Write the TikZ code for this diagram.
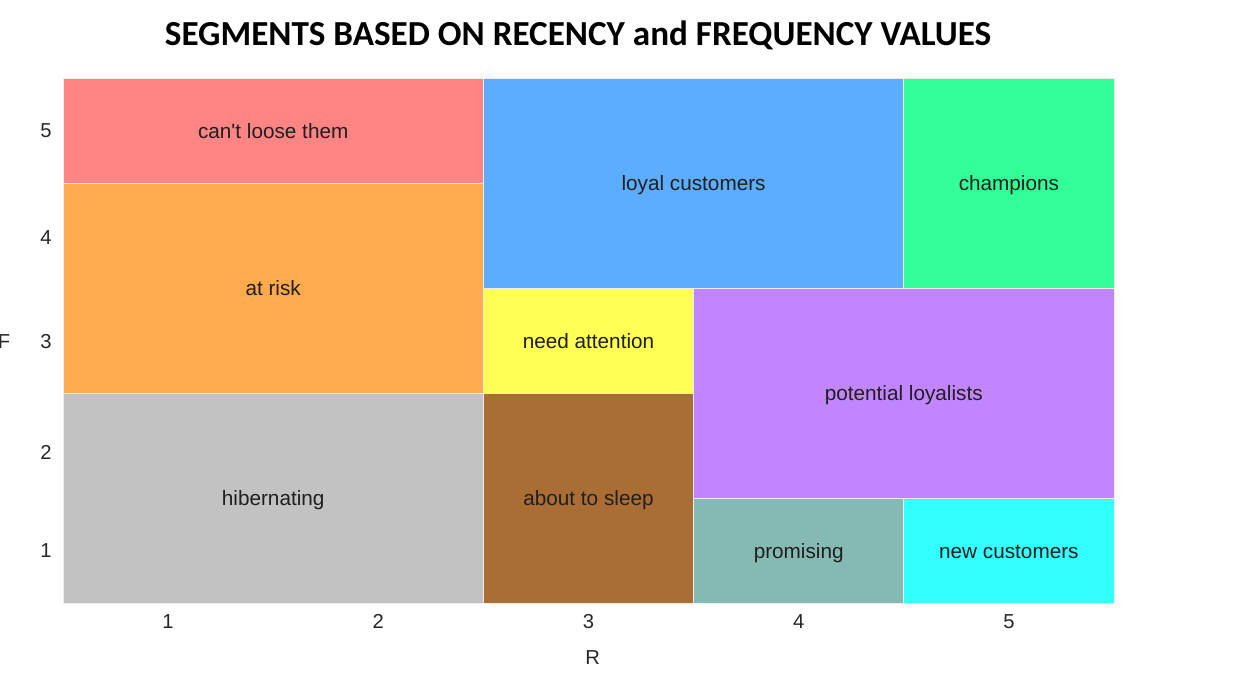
\documentclass[tikz,border=0pt]{standalone}
\usepackage{fontspec}
\setmainfont{Liberation Sans}
\newfontfamily\cellfont{Liberation Sans}
\newfontfamily\titlefont{Carlito}
\usepackage{tikz}
\usetikzlibrary{positioning}
\tikzset{cell/.style 2 args = {draw = white!85!gray, line width = 0.5pt, inner sep = 0,
    minimum width = #1*4.204cm, minimum height = #2*2.1cm, text = black!88,
    text height = 9pt, text depth = 0pt, font = \cellfont\fontsize{11.8}{14}\selectfont}}
\tikzset{tick/.style = {inner sep = 0, text = black!85, font = \fontsize{11.5}{14}\selectfont}}
\tikzset{heading/.style = {inner sep = 0, font = \titlefont\fontsize{20}{24}\selectfont\bfseries}}
\definecolor{cred}{HTML}{FF8585}
\definecolor{corange}{HTML}{FFAA4D}
\definecolor{cgray}{HTML}{C2C2C2}
\definecolor{cblue}{HTML}{5CADFF}
\definecolor{cgreen}{HTML}{33FF99}
\definecolor{cyellow}{HTML}{FFFF55}
\definecolor{cbrown}{HTML}{AA6E35}
\definecolor{cpurple}{HTML}{C185FF}
\definecolor{cteal}{HTML}{85BAB2}
\definecolor{ccyan}{HTML}{33FFFF}

\begin{document}
\begin{tikzpicture}[x = 4.204cm, y = 2.1cm]
    \useasboundingbox (0.2003, -0.2238) rectangle (6.1756, 6.2429);

    \node [heading] (title) at (2.95, 5.91) {SEGMENTS BASED ON RECENCY and FREQUENCY VALUES};

    % segments
    \node [cell = {2}{1}, fill = cred] (cantloose) at (1.5, 5) {can't loose them};
    \node [cell = {2}{2}, fill = corange] (atrisk) at (1.5, 3.5) {at risk};
    \node [cell = {2}{2}, fill = cgray] (hibernating) at (1.5, 1.5) {hibernating};
    \node [cell = {2}{2}, fill = cblue] (loyal) at (3.5, 4.5) {loyal customers};
    \node [cell = {1}{2}, fill = cgreen] (champions) at (5, 4.5) {champions};
    \node [cell = {1}{1}, fill = cyellow] (attention) at (3, 3) {need attention};
    \node [cell = {1}{2}, fill = cbrown] (sleep) at (3, 1.5) {about to sleep};
    \node [cell = {2}{2}, fill = cpurple] (potential) at (4.5, 2.5) {potential loyalists};
    \node [cell = {1}{1}, fill = cteal] (promising) at (4, 1) {promising};
    \node [cell = {1}{1}, fill = ccyan] (newcust) at (5, 1) {new customers};

    % axes
    \foreach \r in {1, ..., 5}
        \node [tick] (r\r) at (\r, 0.32) {\r};
    \node [tick] (f5) at (0.419, 4.995) {5};
    \node [tick] (f4) at (0.419, 3.976) {4};
    \node [tick] (f3) at (0.419, 2.99) {3};
    \node [tick] (f2) at (0.419, 1.93) {2};
    \node [tick] (f1) at (0.419, 0.995) {1};
    \node [tick] (rlabel) at (3.02, -0.015) {R};
    \node [tick] (flabel) at (0.219, 2.99) {F};
\end{tikzpicture}
\end{document}
